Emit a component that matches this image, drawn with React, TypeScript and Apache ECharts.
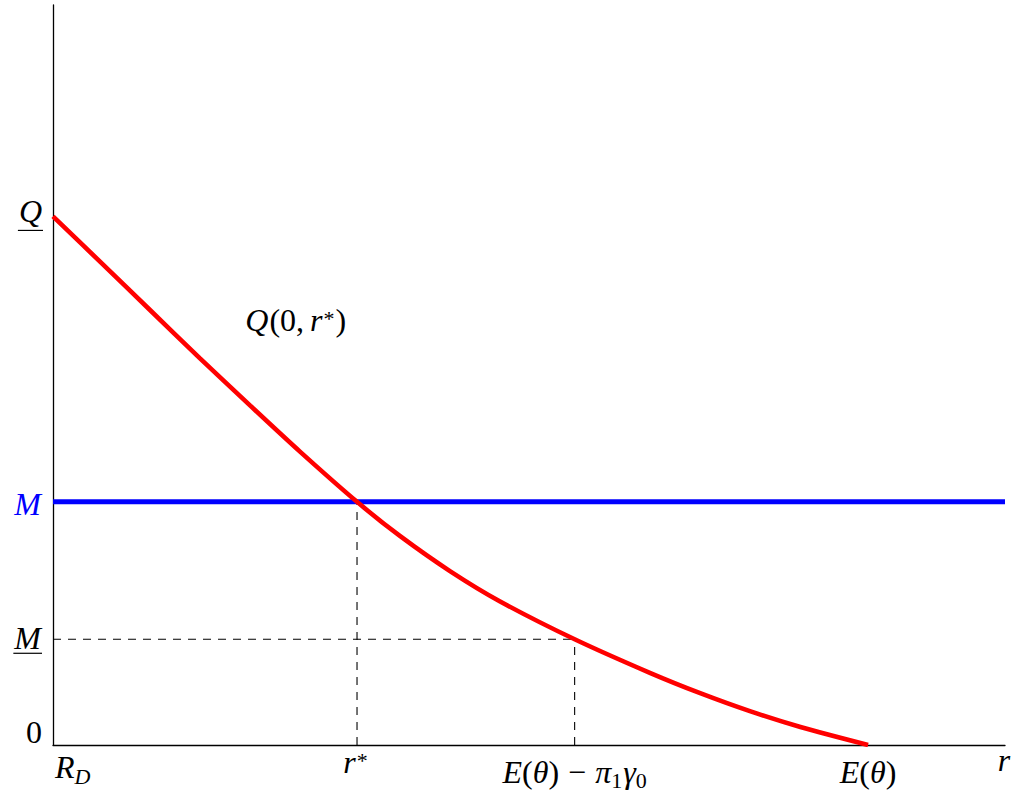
import { useEffect, useRef } from 'react';
import * as echarts from 'echarts';

// Demand curve Q(0, r) sampled along r (from R_D to E(θ))
const curveR = [0, 0.58, 1.19, 1.8, 2.42, 3.03, 3.73, 4.26, 4.87, 5.48, 6.4, 7.33, 7.94, 8.55, 9.17, 10];
const curveQ = [10, 9.14, 8.23, 7.32, 6.42, 5.55, 4.6, 3.95, 3.29, 2.72, 2.0, 1.36, 0.98, 0.64, 0.34, 0];

// Key levels on each axis
const R_D = 0;
const R_STAR = 3.73;
const R_LOW = 6.4; // E(θ) − π1γ0
const E_THETA = 10;
const Q_BAR = 10;
const M_LEVEL = 4.6;
const M_LOW = 2.0;
const X_MAX = 11.68;
const Y_MAX = 14;

// Position of the curve's caption, in data units
const captionAt = [2.36, 7.85];

type Piece = { t: string; it?: boolean; s?: boolean; dy?: number; pre?: number };

// Tick labels (math-style pieces)
const xTickValues = [R_D, R_STAR, R_LOW, E_THETA];
const xTickLabels: Piece[][] = [
  [{ t: 'R', it: true }, { t: 'D', it: true, s: true, dy: 6 }],
  [{ t: 'r', it: true }, { t: '*', s: true, dy: -5, pre: 1 }],
  [
    { t: 'E', it: true }, { t: '(' }, { t: 'θ', it: true }, { t: ')' },
    { t: '−', pre: 9 }, { t: 'π', it: true, pre: 9 }, { t: '1', s: true, dy: 5 },
    { t: 'γ', it: true, pre: 1 }, { t: '0', s: true, dy: 5 },
  ],
  [{ t: 'E', it: true }, { t: '(' }, { t: 'θ', it: true }, { t: ')' }],
];
const yTickValues = [Q_BAR, M_LEVEL, M_LOW, 0];
const yTickLabels: Piece[][] = [
  [{ t: 'Q', it: true }],
  [{ t: 'M', it: true }],
  [{ t: 'M', it: true }],
  [{ t: '0' }],
];
const yTickUnderlined = [true, false, true, false];
const yTickColors = ['#000000', '#0000ff', '#000000', '#000000'];
const xAxisName: Piece[] = [{ t: 'r', it: true }];
const captionText: Piece[] = [
  { t: 'Q', it: true }, { t: '(', pre: 1 }, { t: '0' }, { t: ',' },
  { t: 'r', it: true, pre: 6 }, { t: '*', s: true, dy: -5, pre: 1 }, { t: ')', pre: 1 },
];

const FONT_FAMILY = 'Liberation Serif';
const MAIN_SIZE = 32;
const SCRIPT_SIZE = 22;
const CENTRAL = 0.31;

const measureCtx = document.createElement('canvas').getContext('2d') as CanvasRenderingContext2D;

function pieceFont(p: Piece) {
  const size = p.s ? SCRIPT_SIZE : MAIN_SIZE;
  return { size, italic: !!p.it };
}

function pieceWidth(p: Piece) {
  const { size, italic } = pieceFont(p);
  measureCtx.font = `${italic ? 'italic ' : ''}${size}px "${FONT_FAMILY}"`;
  return measureCtx.measureText(p.t).width;
}

function layoutMath(pieces: Piece[], anchorX: number, baseline: number, align: 'left' | 'center' | 'right', fill: string) {
  const widths = pieces.map((p) => (p.pre ?? 0) + pieceWidth(p));
  const total = widths.reduce((a, b) => a + b, 0);
  let x = align === 'left' ? anchorX : align === 'right' ? anchorX - total : anchorX - total / 2;
  const left = x;
  const children = pieces.map((p, i) => {
    const { size, italic } = pieceFont(p);
    const el = {
      type: 'text',
      silent: true,
      x: x + (p.pre ?? 0),
      y: baseline + (p.dy ?? 0) - CENTRAL * size,
      style: {
        text: p.t,
        fontFamily: FONT_FAMILY,
        fontSize: size,
        fontStyle: italic ? 'italic' : 'normal',
        fill,
        align: 'left',
        verticalAlign: 'middle',
      },
    };
    x += widths[i];
    return el;
  });
  return { children, left, right: left + total };
}

const dashed = [8, 7];

function dashSeries(points: number[][]) {
  return {
    type: 'line',
    data: points,
    symbol: 'none',
    silent: true,
    z: 1,
    lineStyle: { color: '#000', width: 1.1, type: dashed },
  };
}

export default function App() {
  const ref = useRef<HTMLDivElement>(null);

  useEffect(() => {
    if (!ref.current) return;
    const chart = echarts.init(ref.current, null, { renderer: 'svg' });

    const axisCommon = {
      type: 'value',
      axisLine: { show: true, lineStyle: { color: '#000', width: 1.3 } },
      axisTick: { show: false },
      axisLabel: { show: false },
      splitLine: { show: false },
    };

    chart.setOption({
      animation: false,
      backgroundColor: '#ffffff',
      grid: { left: 53, right: 11, top: 5, bottom: 52 },
      xAxis: { ...axisCommon, min: 0, max: X_MAX },
      yAxis: { ...axisCommon, min: 0, max: Y_MAX },
      series: [
        dashSeries([[R_STAR, 0], [R_STAR, M_LEVEL]]),
        dashSeries([[0, M_LOW], [R_LOW, M_LOW]]),
        dashSeries([[R_LOW, 0], [R_LOW, M_LOW]]),
        {
          type: 'line',
          data: [[0, M_LEVEL], [X_MAX, M_LEVEL]],
          symbol: 'none',
          silent: true,
          z: 3,
          lineStyle: { color: '#0000ff', width: 5 },
        },
        {
          type: 'line',
          data: curveR.map((r, i) => [r, curveQ[i]]),
          symbol: 'none',
          smooth: 0.3,
          silent: true,
          z: 4,
          lineStyle: { color: '#ff0000', width: 4.6 },
        },
      ],
    });

    const px = (x: number, y: number) => chart.convertToPixel({ gridIndex: 0 }, [x, y]) as number[];
    const [axisX, axisY] = px(0, 0);
    const [axisEnd] = px(X_MAX, 0);
    const elements: any[] = [];

    // y-axis labels
    const yRightGap = [11, 12, 12, 11];
    const yBaseShift = [4, 12, 9, -3];
    yTickValues.forEach((v, i) => {
      const py = px(0, v)[1];
      const lay = layoutMath(yTickLabels[i], axisX - yRightGap[i], py + yBaseShift[i], 'right', yTickColors[i]);
      elements.push(...lay.children);
      if (yTickUnderlined[i]) {
        const uy = py + yBaseShift[i] + (i === 0 ? 10 : 5);
        elements.push({
          type: 'line',
          silent: true,
          shape: { x1: lay.left - 1, y1: uy, x2: lay.right + 1, y2: uy },
          style: { stroke: '#000', lineWidth: 1.2 },
        });
      }
    });

    // x-axis labels
    const xAlign: ('left' | 'center')[] = ['left', 'center', 'center', 'center'];
    const xShift = [2, -1.5, 0, 0];
    const xBaseline = [32, 27, 37, 37];
    xTickValues.forEach((v, i) => {
      const pxX = px(v, 0)[0];
      const lay = layoutMath(xTickLabels[i], pxX + xShift[i], axisY + xBaseline[i], xAlign[i], '#000');
      elements.push(...lay.children);
    });

    // axis name
    elements.push(...layoutMath(xAxisName, axisEnd - 1, axisY + 25, 'center', '#000').children);

    // curve caption
    const cap = px(captionAt[0], captionAt[1]);
    elements.push(...layoutMath(captionText, cap[0], cap[1], 'left', '#000').children);

    chart.setOption({ graphic: elements });

    return () => chart.dispose();
  }, []);

  return (
    <div
      ref={ref}
      style={{ position: 'fixed', left: 0, top: 0, width: 1016, height: 797, background: '#fff' }}
    />
  );
}
